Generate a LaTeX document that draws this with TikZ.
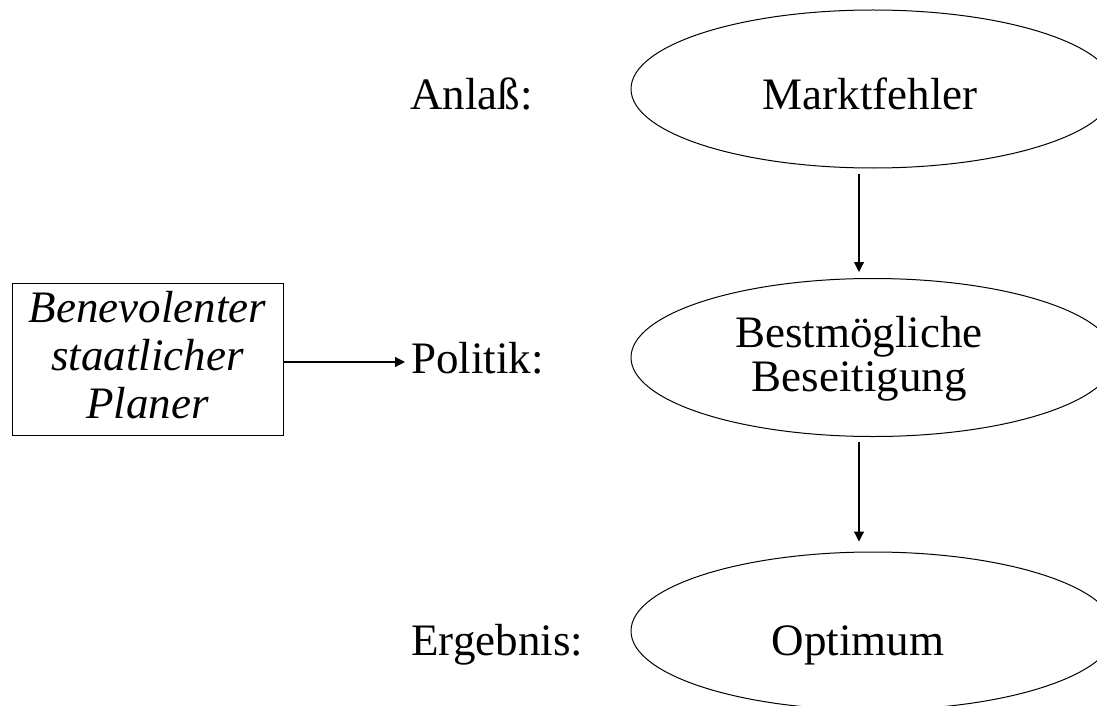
\documentclass[tikz,border=0pt]{standalone}
\usepackage{fontspec}
\setmainfont{Liberation Serif}
\usetikzlibrary{shapes.geometric,arrows.meta}
\tikzset{
  ell/.style={draw, ellipse, line width=0.5pt, inner sep=0pt, minimum width=242pt, minimum height=79pt},
  txt/.style={inner sep=0pt, font=\fontsize{22.5}{22}\selectfont, align=center},
  boxtxt/.style={inner sep=0pt, font=\fontsize{22.5}{24}\selectfont\itshape, align=center},
  planbox/.style={draw, line width=0.5pt, inner sep=0pt, minimum width=135.5pt, minimum height=76pt},
  arr/.style={line width=0.6pt, -{Triangle[length=5pt,width=5pt]}}
}
\begin{document}
\begin{tikzpicture}[x=0.5pt,y=-0.5pt]
\useasboundingbox (0,0) rectangle (1097,706);
\clip (0,0) rectangle (1097,706);
% ellipses
\node[ell] (m) at (873,89) {};
\node[ell] (b) at (873,357.5) {};
\node[ell] (o) at (873,631) {};
% ellipse texts
\node[txt, anchor=base] (mt) at (870,110) {Marktfehler};
\node[txt] (bt) at (859,359) {Bestmögliche\\Beseitigung};
\node[txt, anchor=base] (ot) at (858,655) {Optimum};
% row labels
\node[txt, anchor=base west] (an) at (410,110) {Anlaß:};
\node[txt, anchor=base west] (po) at (411,373) {Politik:};
\node[txt, anchor=base west] (er) at (411,655) {Ergebnis:};
% planner box
\node[planbox] (pl) at (147.5,359) {};
\node[boxtxt] (plt) at (147.5,355) {Benevolenter\\staatlicher\\Planer};
% connectors
\draw[arr] ([xshift=-7pt,yshift=-2.5pt]m.south) -- ([xshift=-7pt,yshift=3pt]b.north);
\draw[arr] ([xshift=-7pt,yshift=-2.5pt]b.south) -- ([xshift=-7pt,yshift=5pt]o.north);
\draw[arr] ([yshift=-1.5pt]pl.east) -- ([xshift=-3pt,yshift=-1.5pt]pl.east -| po.west);
\end{tikzpicture}
\end{document}
